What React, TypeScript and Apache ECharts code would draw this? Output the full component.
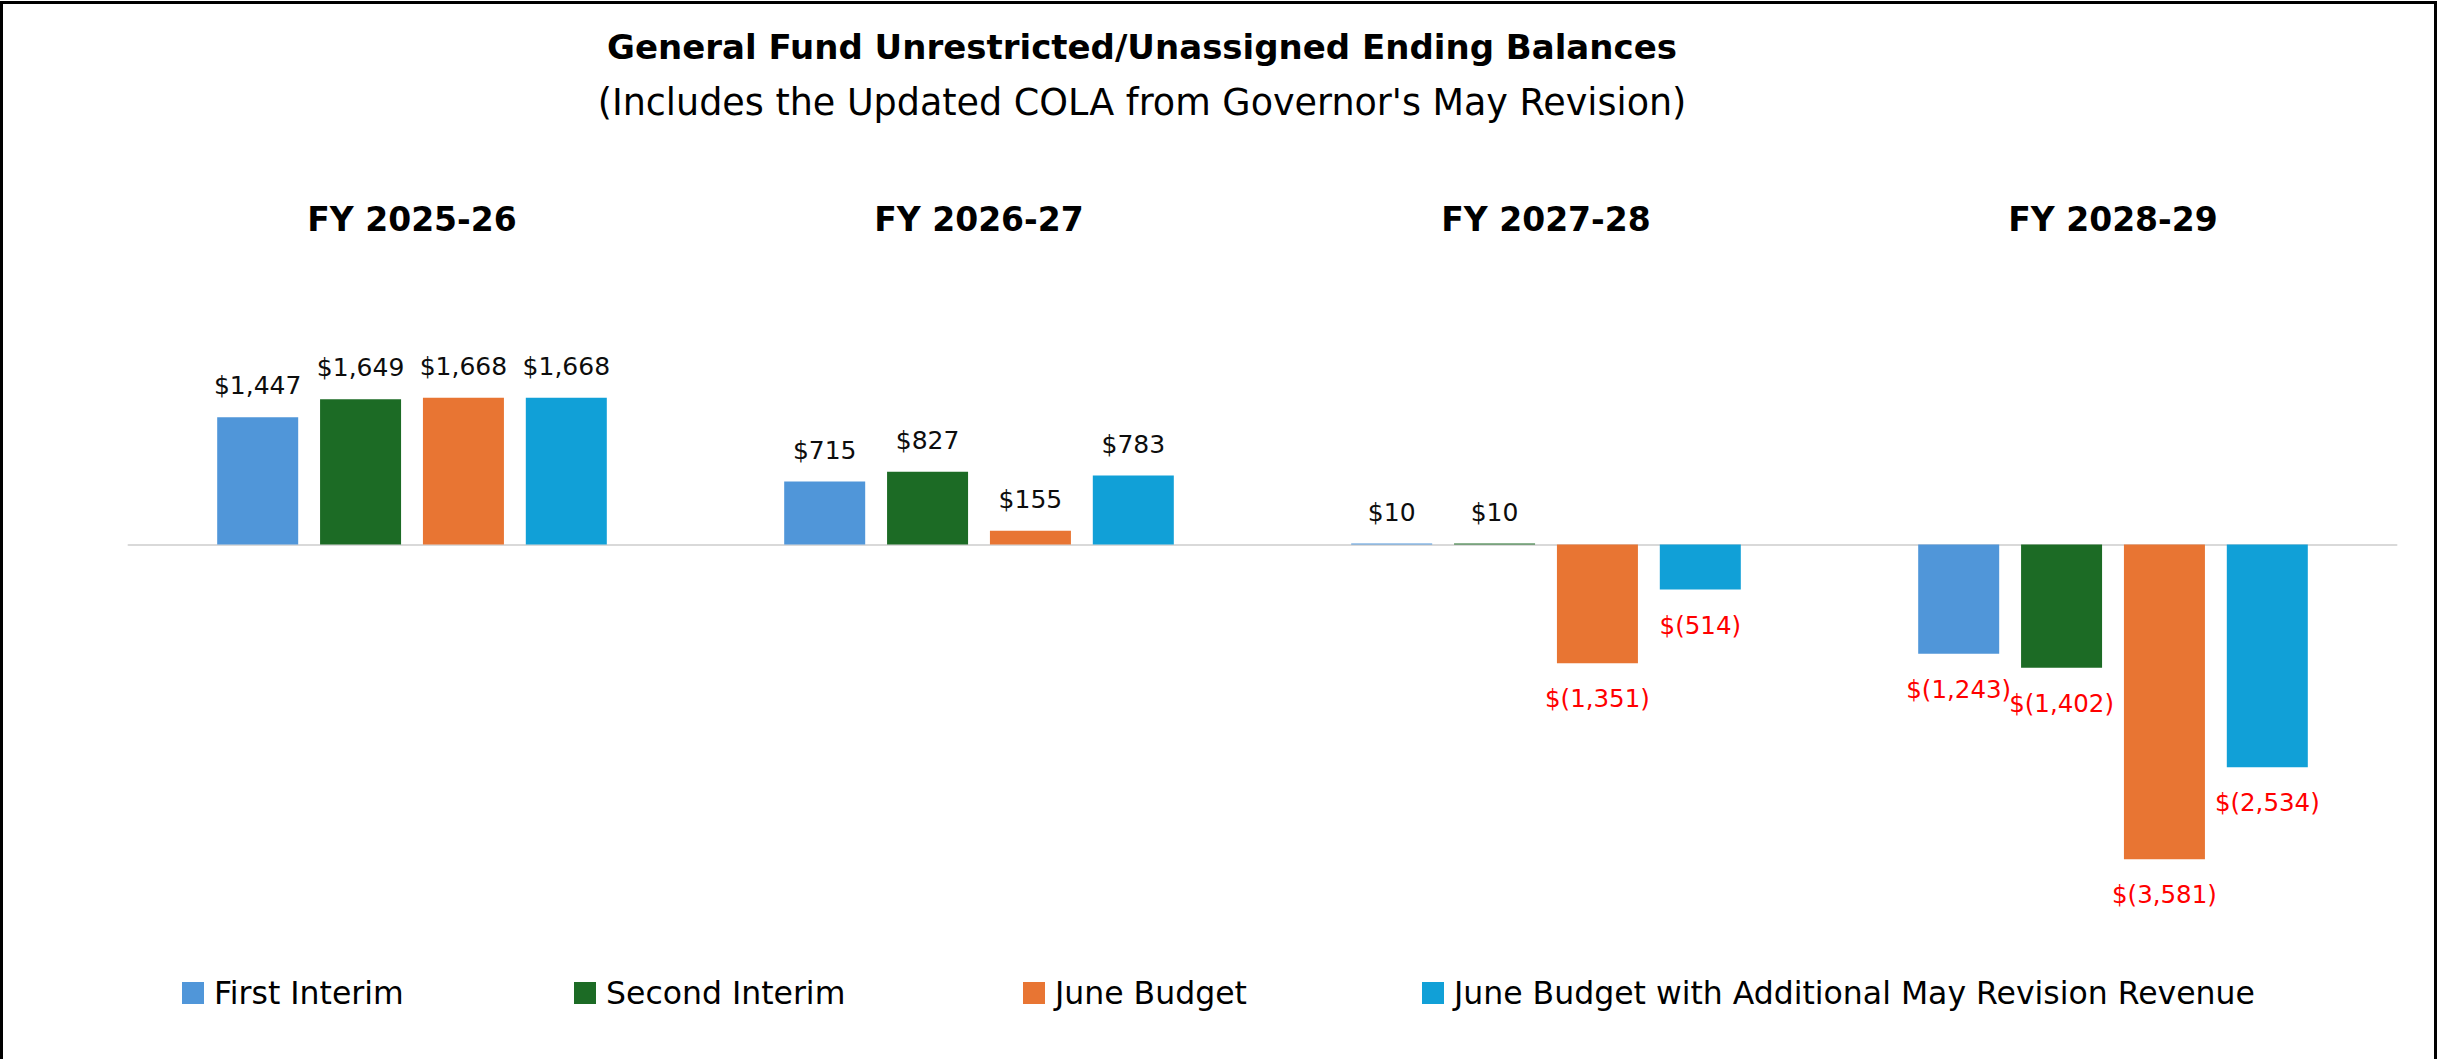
import React, { useEffect, useRef } from "react";
import * as echarts from "echarts";

const categories = ["FY 2025-26", "FY 2026-27", "FY 2027-28", "FY 2028-29"];
const seriesNames = [
  "First Interim",
  "Second Interim",
  "June Budget",
  "June Budget with Additional May Revision Revenue",
];
const firstInterim = [1447, 715, 10, -1243];
const secondInterim = [1649, 827, 10, -1402];
const juneBudget = [1668, 155, -1351, -3581];
const juneBudgetMay = [1668, 783, -514, -2534];
const seriesValues = [firstInterim, secondInterim, juneBudget, juneBudgetMay];
const colors = ["#5096D9", "#1C6B25", "#E87533", "#11A0D7"];

const FONT = "DejaVu Sans";
const legendLefts = [182, 574, 1023, 1422];

function fmt(v: number): string {
  const s = Math.abs(v).toLocaleString("en-US");
  return v < 0 ? "$(" + s + ")" : "$" + s;
}

export default function App() {
  const ref = useRef<HTMLDivElement>(null);
  useEffect(() => {
    document.body.style.margin = "0";
    document.body.style.overflow = "hidden";
    const chart = echarts.init(ref.current!, undefined, { renderer: "svg" });
    const option: any = {
      animation: false,
      backgroundColor: "#ffffff",
      textStyle: { fontFamily: FONT },
      title: [
        {
          text: "General Fund Unrestricted/Unassigned Ending Balances",
          left: 1137,
          top: 25,
          textAlign: "center",
          textStyle: { fontFamily: FONT, fontWeight: "bold", fontSize: 34, color: "#000" },
        },
        {
          text: "(Includes the Updated COLA from Governor's May Revision)",
          left: 1137,
          top: 79,
          textAlign: "center",
          textStyle: { fontFamily: FONT, fontWeight: "normal", fontSize: 36.5, color: "#000" },
        },
      ],
      legend: seriesNames.map((n, i) => ({
        data: [n],
        left: legendLefts[i],
        top: 977,
        icon: "rect",
        itemWidth: 22,
        itemHeight: 22,
        selectedMode: false,
        padding: 0,
        textStyle: { fontFamily: FONT, fontSize: 31.5, color: "#000", padding: [0, 0, 0, 5] },
      })),
      grid: { left: 128.5, right: 45.5, top: 368.5, bottom: 162.8, containLabel: false },
      xAxis: [
        {
          type: "category",
          data: categories,
          position: "bottom",
          axisLine: { show: true, onZero: true, lineStyle: { color: "#D9D9D9", width: 2 } },
          axisTick: { show: false },
          axisLabel: { show: false },
          splitLine: { show: false },
        },
        {
          type: "category",
          data: categories,
          position: "top",
          axisLine: { show: false, onZero: false },
          axisTick: { show: false },
          splitLine: { show: false },
          axisLabel: {
            margin: 133,
            fontFamily: FONT,
            fontWeight: "bold",
            fontSize: 33,
            color: "#000",
          },
        },
      ],
      yAxis: {
        type: "value",
        min: -4000,
        max: 2000,
        show: false,
        splitLine: { show: false },
      },
      series: seriesNames.map((n, i) => ({
        name: n,
        type: "bar",
        xAxisIndex: 0,
        barWidth: 81,
        barGap: "27%",
        itemStyle: { color: colors[i] },
        label: {
          show: true,
          position: "top",
          distance: 19,
          fontFamily: FONT,
          fontSize: 25,
          color: "#0D0D0D",
          formatter: (p: any) => fmt(p.value),
        },
        data: seriesValues[i].map((v) =>
          v < 0
            ? { value: v, label: { position: "bottom", distance: 23, fontSize: 24.5, color: "#FF0000" } }
            : { value: v }
        ),
      })),
      graphic: [
        { type: "rect", shape: { x: 0, y: 1, width: 2437, height: 3 }, style: { fill: "#000" } },
        { type: "rect", shape: { x: 0, y: 1, width: 3, height: 1058 }, style: { fill: "#000" } },
        { type: "rect", shape: { x: 2434, y: 1, width: 3, height: 1058 }, style: { fill: "#000" } },
      ],
    };
    chart.setOption(option);
    return () => chart.dispose();
  }, []);
  return (
    <div
      ref={ref}
      style={{ position: "fixed", left: 0, top: 0, width: 2442, height: 1059 }}
    />
  );
}
